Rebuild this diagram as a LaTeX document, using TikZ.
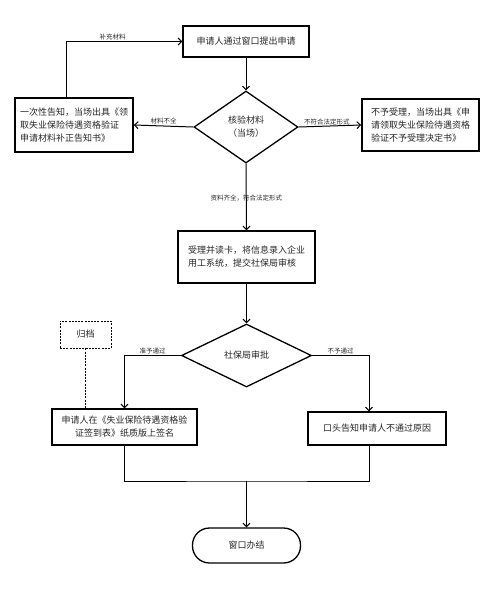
\documentclass[tikz,border=0pt]{standalone}
\usepackage{fontspec}
\setmainfont{Noto Sans CJK SC}
\usetikzlibrary{arrows.meta,shapes.geometric,calc}
\begin{document}
\begin{tikzpicture}[x=1pt,y=-1pt,
  box/.style={draw,line width=1.3pt,inner sep=2pt,font=\fontsize{9}{13}\selectfont,text=black!85},
  dia/.style={draw,diamond,line width=1.3pt,inner sep=0pt,font=\fontsize{9}{13}\selectfont,text=black!85},
  lab/.style={font=\fontsize{6.5}{8}\selectfont,inner sep=1pt,text=black!85},
  arr/.style={line width=1pt,-{Straight Barb[length=3.5pt,width=7pt,line width=1pt]}},
  ln/.style={line width=1pt},
  dsh/.style={dash pattern=on 2pt off 1.2pt}]
\useasboundingbox (0,0) rectangle (494,590);
\node[box,minimum width=126pt,minimum height=31pt] (top) at (246,41.5) {申请人通过窗口提出申请};
\node[dia,minimum width=104pt,minimum height=72pt,align=center] (d1) at (246,127) {核验材料\\（当场）};
\node[box,minimum width=118pt,minimum height=54pt,align=left,line width=1.8pt] (left) at (74,125) {一次性告知，当场出具《领\\取失业保险待遇资格验证\\申请材料补正告知书》};
\node[box,minimum width=117pt,minimum height=52pt,align=left,line width=1.8pt] (right) at (420.5,125) {不予受理，当场出具《申\\请领取失业保险待遇资格\\验证不予受理决定书》};
\node[box,minimum width=137pt,minimum height=52pt,align=left] (mid) at (246.5,257) {受理并读卡，将信息录入企业\\用工系统，提交社保局审核};
\node[dia,minimum width=130pt,minimum height=63pt] (d2) at (246.5,355.5) {社保局审批};
\node[box,dsh,line width=0.8pt,minimum width=51pt,minimum height=27pt] (gd) at (85.5,334.5) {归档};
\node[box,minimum width=145pt,minimum height=36pt,align=center] (bl) at (124.5,427) {申请人在《失业保险待遇资格验\\证签到表》纸质版上签名};
\node[box,minimum width=138pt,minimum height=33pt] (br) at (377,428.5) {口头告知申请人不通过原因};
\node[box,rounded corners=17pt,minimum width=108pt,minimum height=35pt] (end) at (246.5,545.5) {窗口办结};
\draw[arr] (top.south) -- (d1.north);
\draw[arr] (d1.west) -- node[lab,above,pos=0.5] {材料不全} (left.east);
\draw[arr] (d1.east) -- node[lab,above,pos=0.45] {不符合法定形式} (right.west);
\draw[arr] ([xshift=-8pt]left.north) |- node[lab,above,pos=0.7] {补充材料} (top.west);
\draw[arr] (d1.south) -- node[lab,pos=0.51] {资料齐全，符合法定形式} (mid.north);
\draw[arr] (mid.south) -- (d2.north);
\draw[arr] (d2.west) -| node[lab,above,pos=0.25] {准予通过} (bl.north);
\draw[arr] (d2.east) -| node[lab,above,pos=0.25] {不予通过} ([xshift=-8pt]br.north);
\draw[dsh,line width=0.8pt] (gd.south) -- (gd.south |- bl.north);
\coordinate (j) at (246.5,481);
\draw[ln] (bl.south) |- (j) -| ([xshift=-8pt]br.south);
\draw[arr] (j) -- (end.north);
\end{tikzpicture}
\end{document}
